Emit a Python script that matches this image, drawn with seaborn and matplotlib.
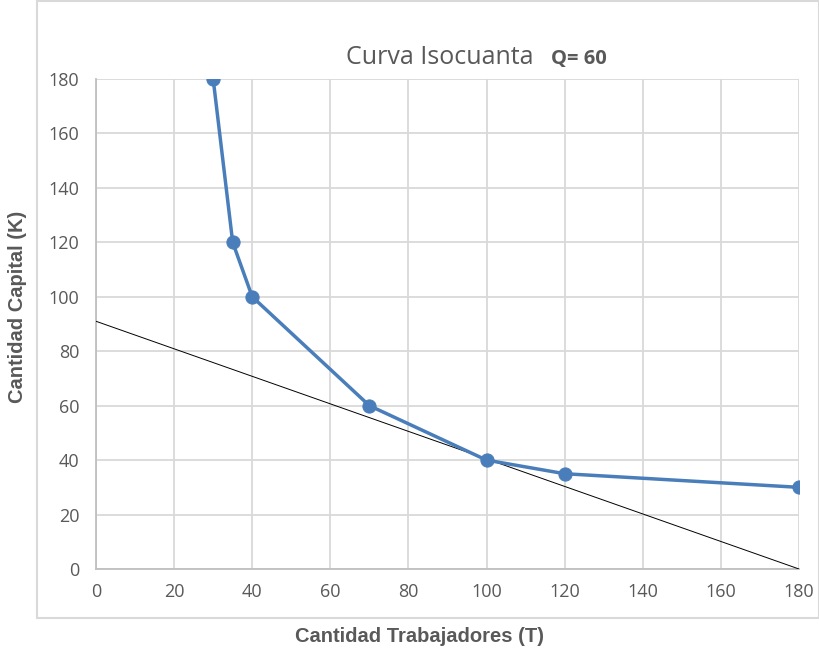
import matplotlib
matplotlib.use("Agg")
import matplotlib.pyplot as plt
import seaborn as sns
import pandas as pd
from matplotlib.patches import Rectangle

# Data
trabajadores = [30, 35, 40, 70, 100, 120, 180]
capital = [180, 120, 100, 60, 40, 35, 30]
recta_x = [0, 180]
recta_y = [91, 0]
ticks = [0, 20, 40, 60, 80, 100, 120, 140, 160, 180]

sns.set_style("white")
plt.rcParams['font.family'] = ['Open Sans', 'DejaVu Sans']

W, H = 820, 649
fig = plt.figure(figsize=(W / 100, H / 100), dpi=100)
ax = fig.add_axes([96 / W, 1 - 569 / H, (799 - 96) / W, (569 - 79) / H])

df = pd.DataFrame({"T": trabajadores, "K": capital})
sns.lineplot(data=df, x="T", y="K", ax=ax, color="#4a7ebb", linewidth=2.5,
             marker="o", markersize=9.5, markeredgecolor="#4a7ebb", zorder=4, sort=False)
sns.lineplot(x=recta_x, y=recta_y, ax=ax, color="black", linewidth=0.7, zorder=3)

ax.set_xlim(0, 180)
ax.set_ylim(0, 180)
ax.set_xticks(ticks)
ax.set_yticks(ticks)
ax.grid(True, color="#d9d9d9", linewidth=1.3, zorder=0)
ax.set_axisbelow(True)
for s in ["top", "right"]:
    ax.spines[s].set_visible(False)
for s in ["left", "bottom"]:
    ax.spines[s].set_color("#bfbfbf")
    ax.spines[s].set_linewidth(1.3)
ax.tick_params(axis="both", length=0, labelsize=13, labelcolor="#595959")
ax.tick_params(axis="x", pad=10)
ax.tick_params(axis="y", pad=12)
ax.set_xlabel("")
ax.set_ylabel("")

lab_font = dict(family=["Liberation Sans Narrow", "Liberation Sans", "DejaVu Sans"],
                fontweight="bold", fontsize=14.5, color="#595959")
fig.text(420 / W, 1 - 636 / H, "Cantidad Trabajadores (T)", ha="center", va="center", **lab_font)
fig.text(18 / W, 1 - 307 / H, "Cantidad Capital (K)", ha="center", va="center",
         rotation=90, **lab_font)

fig.text(346 / W, 1 - 64 / H, "Curva Isocuanta", ha="left", va="baseline",
         fontsize=18, color="#595959")
fig.text(607 / W, 1 - 64 / H, "Q= 60", ha="right", va="baseline",
         fontsize=14.5, fontweight="bold", color="#595959")

fig.patches.append(Rectangle((37 / W, 1 - 618 / H), (819 - 37) / W, (618 - 1) / H,
                             transform=fig.transFigure, fill=False,
                             edgecolor="#d9d9d9", linewidth=1.5))

fig.savefig("out.png", dpi=100)
